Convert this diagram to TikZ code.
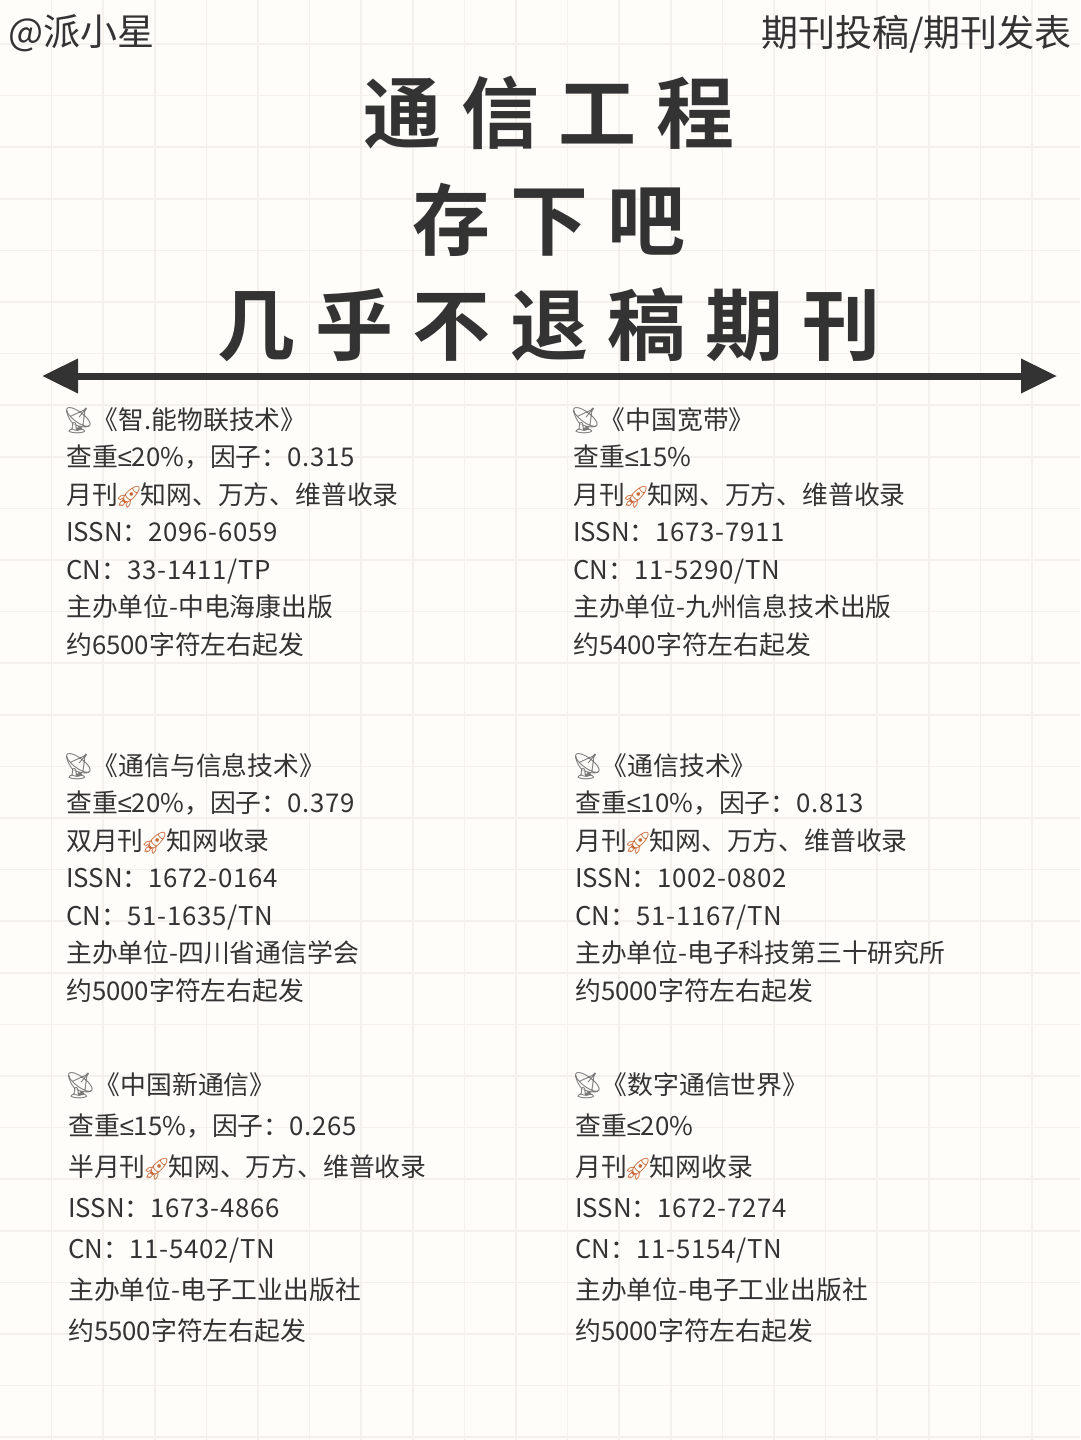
\documentclass[tikz,border=0pt]{standalone}
\usepackage{fontspec}
\setmainfont{Noto Sans CJK SC}
\newfontfamily\emojifont{Noto Emoji}
\newfontfamily\symfont{Liberation Sans}
\newfontfamily\titlefont[LetterSpace=25]{Noto Sans CJK SC Bold}
\usetikzlibrary{arrows.meta, positioning}

\definecolor{paperbg}{HTML}{FFFDFA}
\definecolor{gridline}{HTML}{F4F1EC}
\definecolor{inkdark}{HTML}{333333}
\definecolor{dishgray}{HTML}{7A7A7A}
\definecolor{rocketred}{HTML}{C96A3A}

\newcommand{\dish}{\hspace*{-4pt}{\emojifont\textcolor{dishgray}{📡}}\hspace*{-2pt}}
\newcommand{\rocket}{\hspace*{-3pt}{\emojifont\fontsize{22}{22}\selectfont\textcolor{rocketred}{🚀}}\hspace*{-2pt}}
\newcommand{\atmost}{{\symfont ≤}}
\newcommand{\num}[1]{{\addfontfeature{LetterSpace=3}#1}}

\tikzset{
  journal/.style={anchor=north west, align=left, inner sep=0pt, text=inkdark,
    font=\fontsize{25.8}{37.5}\selectfont},
  journalwide/.style={journal, font=\fontsize{25.8}{41}\selectfont},
  headline/.style={inner sep=0pt, text=inkdark, font=\fontsize{78}{90}\titlefont},
  corner/.style={inner sep=0pt, text=inkdark, font=\fontsize{37}{42}\selectfont}
}

\begin{document}
\begin{tikzpicture}[x=1pt,y=-1pt,>={Triangle[length=36pt,width=33pt]}]
\fill[paperbg] (0,0) rectangle (1080,1440);
\useasboundingbox (0,0) rectangle (1080,1440);
% grid
\foreach \k in {1,...,20} \draw[gridline, line width=1.5pt] ({51.6*\k},0) -- ({51.6*\k},1440);
\foreach \k in {0,...,27} \draw[gridline, line width=1.5pt] (0,{44+51.6*\k}) -- (1080,{44+51.6*\k});

\node (handle) [corner, anchor=west] at (8,33) {@派小星};
\node (topic) [corner, anchor=east] at (1072,34) {期刊投稿/期刊发表};

\node (titleA) [headline] at (549,113) {通信工程};
\node (titleB) [headline] at (549,220) {存下吧};
\node (titleC) [headline] at (549,325) {几乎不退稿期刊};

\coordinate (arrowL) at (42,376);
\coordinate (arrowR) at (1057,376);
\draw[<->, inkdark, line width=7pt] (arrowL) -- (arrowR);

% first row
\node (zhineng) [journal] at (66,407) {\dish《智.能物联技术》\\查重\atmost20\%，因子：\num{0.315}\\月刊\rocket 知网、万方、维普收录\\ISSN：\num{2096-6059}\\CN：\num{33-1411/TP}\\主办单位-中电海康出版\\约6500字符左右起发};
\node (kuandai) [journal] at (573,407) {\dish《中国宽带》\\查重\atmost15\%\\月刊\rocket 知网、万方、维普收录\\ISSN：\num{1673-7911}\\CN：\num{11-5290/TN}\\主办单位-九州信息技术出版\\约5400字符左右起发};

% second row
\node (tongxin) [journal] at (66,753) {\dish《通信与信息技术》\\查重\atmost20\%，因子：\num{0.379}\\双月刊\rocket 知网收录\\ISSN：\num{1672-0164}\\CN：\num{51-1635/TN}\\主办单位-四川省通信学会\\约5000字符左右起发};
\node (jishu) [journal] at (575,753) {\dish《通信技术》\\查重\atmost10\%，因子：\num{0.813}\\月刊\rocket 知网、万方、维普收录\\ISSN：\num{1002-0802}\\CN：\num{51-1167/TN}\\主办单位-电子科技第三十研究所\\约5000字符左右起发};

% third row
\node (xintongxin) [journalwide] at (68,1072) {\dish《中国新通信》\\查重\atmost15\%，因子：\num{0.265}\\半月刊\rocket 知网、万方、维普收录\\ISSN：\num{1673-4866}\\CN：\num{11-5402/TN}\\主办单位-电子工业出版社\\约5500字符左右起发};
\node (shuzi) [journalwide] at (575,1072) {\dish《数字通信世界》\\查重\atmost20\%\\月刊\rocket 知网收录\\ISSN：\num{1672-7274}\\CN：\num{11-5154/TN}\\主办单位-电子工业出版社\\约5000字符左右起发};
\end{tikzpicture}
\end{document}
